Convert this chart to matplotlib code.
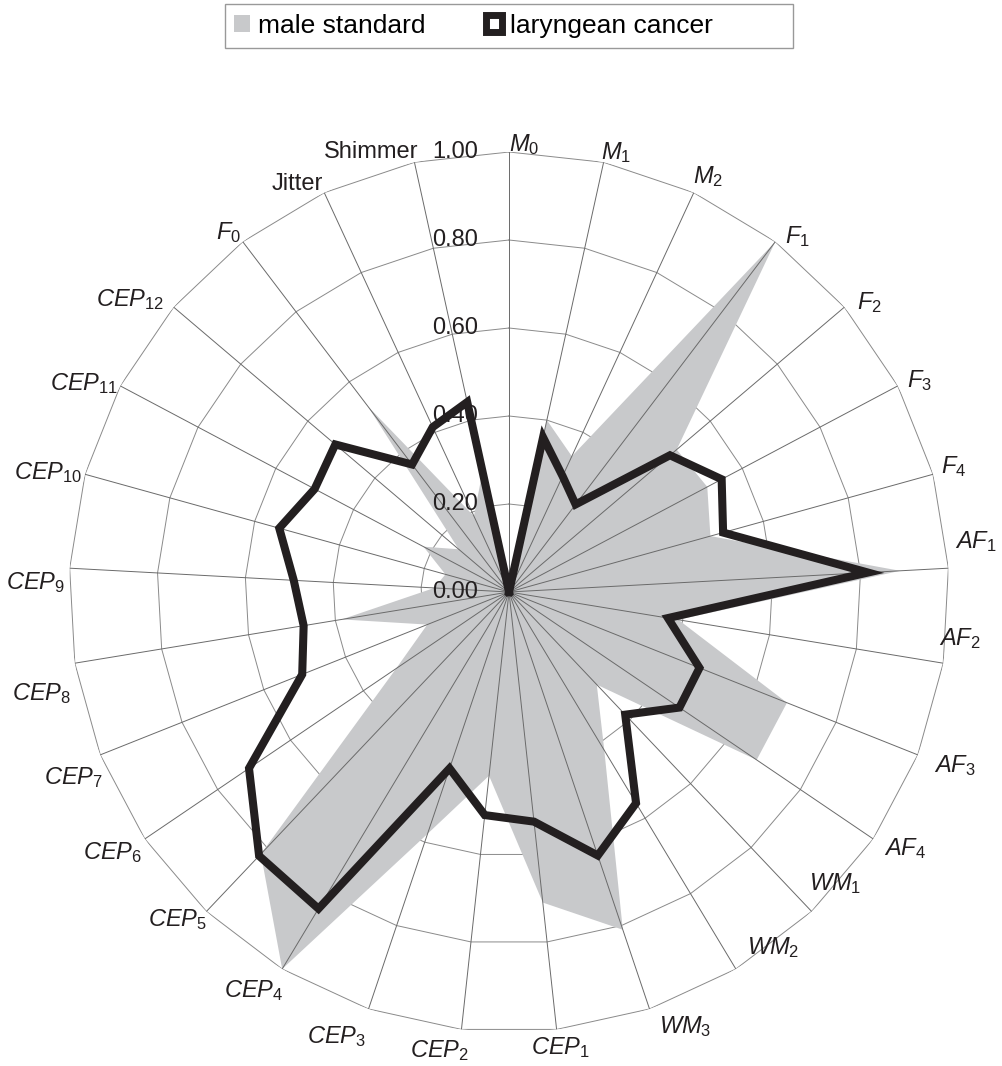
import numpy as np
import matplotlib
matplotlib.use('Agg')
import matplotlib.pyplot as plt
from matplotlib.patches import Rectangle

# categories (clockwise from the top)
categories = [r'$M_0$', r'$M_1$', r'$M_2$', r'$F_1$', r'$F_2$', r'$F_3$', r'$F_4$',
              r'$AF_1$', r'$AF_2$', r'$AF_3$', r'$AF_4$',
              r'$WM_1$', r'$WM_2$', r'$WM_3$',
              r'$CEP_1$', r'$CEP_2$', r'$CEP_3$', r'$CEP_4$', r'$CEP_5$', r'$CEP_6$',
              r'$CEP_7$', r'$CEP_8$', r'$CEP_9$', r'$CEP_{10}$', r'$CEP_{11}$', r'$CEP_{12}$',
              r'$F_0$', 'Jitter', 'Shimmer']

male_standard = [0.00, 0.40, 0.34, 1.00, 0.50, 0.51, 0.475,
                 0.89, 0.39, 0.68, 0.68,
                 0.29, 0.42, 0.81,
                 0.71, 0.42, 0.58, 1.00, 0.82, 0.31,
                 0.20, 0.385, 0.17, 0.15, 0.22, 0.15,
                 0.53, 0.19, 0.28]

laryngeal_cancer = [0.00, 0.36, 0.29, 0.25, 0.48, 0.547, 0.505,
                    0.817, 0.366, 0.466, 0.468,
                    0.384, 0.56, 0.632,
                    0.525, 0.51, 0.423, 0.84, 0.826, 0.714,
                    0.506, 0.473, 0.49, 0.542, 0.50, 0.518,
                    0.364, 0.413, 0.442]

ring_values = [0.0, 0.2, 0.4, 0.6, 0.8, 1.0]
legend_labels = ['male standard', 'laryngean cancer']

# small hand nudges (pixels, right / down) so the labels sit like Excel put them
label_nudge = [(0, 13), (-4, 11), (-4, 4), (5, 14), (6, 13), (2, 11), (0, -6),
               (-2, -26), (-12, -26), (9, -5), (4, -7),
               (-8, -46), (7, -41), (7, -3),
               (-26, -3), (8, 0), (0, 7), (5, 2), (6, -10), (4, -3),
               (10, 7), (4, 29), (4, 15), (5, 0), (5, 14), (-3, 10),
               (3, 10), (2, 10), (6, 9)]

plt.rcParams['font.family'] = ['Liberation Sans', 'DejaVu Sans']
plt.rcParams['mathtext.fontset'] = 'custom'
plt.rcParams['mathtext.rm'] = 'Liberation Sans'
plt.rcParams['mathtext.it'] = 'Liberation Sans:italic'
plt.rcParams['mathtext.bf'] = 'Liberation Sans:bold'

txt_color = '#231f20'
n = len(categories)
theta = np.arange(n) * 2 * np.pi / n
theta_c = np.append(theta, theta[0])

fig = plt.figure(figsize=(10.03, 10.66), dpi=100)
ax = fig.add_axes([0.0688, 0.0319, 0.8774, 0.8255], projection='polar')
ax.set_theta_zero_location('N')
ax.set_theta_direction(-1)
ax.set_ylim(0, 1)
ax.set_xticks([])
ax.set_yticks([])
ax.grid(False)
ax.spines['polar'].set_visible(False)
ax.patch.set_visible(False)

# polygon rings
for r in ring_values[1:]:
    ax.plot(theta_c, [r] * (n + 1), color='#8a8a8a', lw=0.7, zorder=1)

# filled series
ax.fill(theta, male_standard, color='#c8c9cb', lw=0, zorder=2)

# spokes
for t in theta:
    ax.plot([t, t], [0, 1], color='#6a6a6a', lw=0.7, zorder=3)

# line series
ax.plot(theta_c, np.append(laryngeal_cancer, laryngeal_cancer[0]), color=txt_color,
        lw=5.8, solid_joinstyle='miter', zorder=4)

# value labels along the top spoke
for v in ring_values:
    ax.annotate('%.2f' % v, xy=(0, v), xytext=(-22, 0), textcoords='offset points',
                ha='right', va='center', fontsize=17, color=txt_color, zorder=5)

# category labels
for t, lab, (nx, ny) in zip(theta, categories, label_nudge):
    s, c = np.sin(t), np.cos(t)
    ha = 'left' if s > 0.1 else ('right' if s < -0.1 else 'center')
    va = 'bottom' if c > 0.3 else ('top' if c < -0.3 else 'center')
    if abs(s) <= 0.1 and c > 0:
        ha = 'left'
    ax.annotate(lab, xy=(t, 1.0), xytext=(8.3 * s + nx, 8.3 * c - ny),
                textcoords='offset pixels', ha=ha, va=va, fontsize=17,
                color=txt_color, annotation_clip=False)

# legend with a hand drawn frame (Excel leaves extra room on the right)
fig.patches.append(Rectangle((225 / 1003, 1 - 48 / 1066), 568 / 1003, 44 / 1066,
                             transform=fig.transFigure, fill=False,
                             edgecolor='#999999', lw=1.0))
handles = [Rectangle((0, 0), 1, 1, facecolor='#c8c9cb', edgecolor='none'),
           Rectangle((0, 0), 1, 1, facecolor='white', edgecolor=txt_color, lw=5)]
fig.legend(handles, legend_labels, loc='center left',
           bbox_to_anchor=(225 / 1003, 1 - 26 / 1066), borderaxespad=0,
           ncol=2, frameon=False, fontsize=19, handlelength=0.6,
           handleheight=0.6, handletextpad=0.3, columnspacing=2.3, borderpad=0.35)

fig.savefig('out.png', dpi=100, facecolor='white')
